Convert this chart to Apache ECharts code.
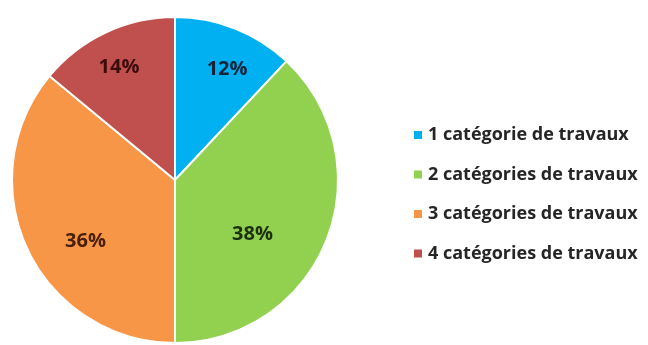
<!DOCTYPE html>
<html>
<head>
<meta charset="utf-8">
<script src="https://cdn.jsdelivr.net/npm/echarts@6/dist/echarts.min.js"></script>
<style>
  html, body { margin: 0; padding: 0; background: #fff; }
  #main { width: 648px; height: 345px; }
</style>
</head>
<body>
<div id="main"></div>
<script>
// données du graphique
const categories = ['1 catégorie de travaux', '2 catégories de travaux', '3 catégories de travaux', '4 catégories de travaux']
const values = [12, 38, 36, 14]

// couleurs et décalage des étiquettes
const colors = ['#00b0f0', '#92d050', '#f79646', '#c0504d']
const labelColors = ['#14243a', '#1c3010', '#4a2008', '#3c0c0c']
const labelOffsets = [[21, -32], [-1, 23], [-13, 25], [-20, -36]]

const myChart = echarts.init(document.getElementById('main'))

const option = {
  animation: false,
  legend: {
    orient: 'vertical',
    left: 407,
    top: 121,
    itemWidth: 10,
    itemHeight: 10,
    itemGap: 21.5,
    icon: 'rect',
    textStyle: {
      fontFamily: 'Open Sans',
      fontWeight: 'bold',
      fontSize: 18,
      color: '#262626'
    },
    data: categories
  },
  series: [{
    type: 'pie',
    center: [175, 180],
    radius: 163,
    startAngle: 90,
    clockwise: true,
    itemStyle: {
      borderColor: '#fff',
      borderWidth: 2
    },
    label: {
      position: 'inside',
      formatter: '{c}%',
      fontFamily: 'Open Sans',
      fontWeight: 'bold',
      fontSize: 20
    },
    labelLine: { show: false },
    data: categories.map((name, i) => ({
      name: name,
      value: values[i],
      itemStyle: { color: colors[i] },
      label: { color: labelColors[i], offset: labelOffsets[i] }
    }))
  }]
}

myChart.setOption(option)
</script>
</body>
</html>
